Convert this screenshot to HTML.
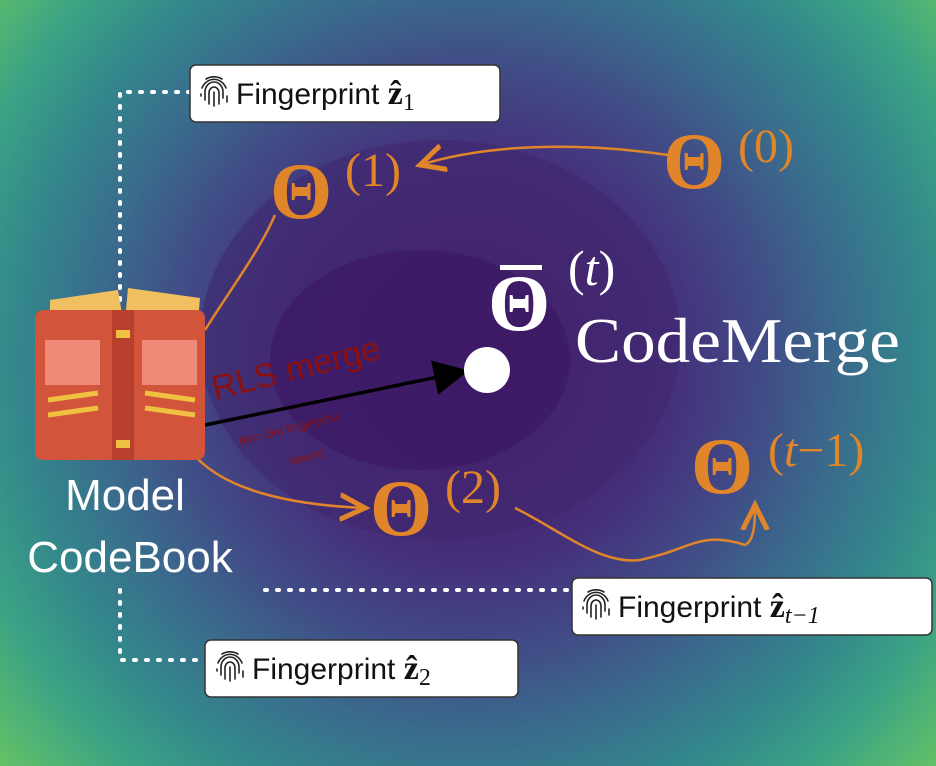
<!DOCTYPE html>
<html><head><meta charset="utf-8"><style>
html,body{margin:0;padding:0;width:936px;height:766px;overflow:hidden}
svg{display:block}
</style></head><body>
<svg width="936" height="766" viewBox="0 0 936 766" xmlns="http://www.w3.org/2000/svg">
<defs>
<radialGradient id="bg" cx="470" cy="360" r="640" gradientUnits="userSpaceOnUse">
<stop offset="0" stop-color="#43176a"/>
<stop offset="0.18" stop-color="#46226f"/>
<stop offset="0.32" stop-color="#45307a"/>
<stop offset="0.45" stop-color="#414a86"/>
<stop offset="0.58" stop-color="#3a6a8c"/>
<stop offset="0.7" stop-color="#33858c"/>
<stop offset="0.82" stop-color="#3aa285"/>
<stop offset="1" stop-color="#6cc860"/>
</radialGradient>
<marker id="ah" markerWidth="10" markerHeight="10" refX="8" refY="5" orient="auto"><path d="M0,0 L10,5 L0,10 z" fill="#000"/></marker>
<marker id="oh" markerWidth="12" markerHeight="12" refX="10" refY="6" orient="auto"><path d="M0,1 L10,6 L0,11" fill="none" stroke="#e0852a" stroke-width="2"/></marker>
<g id="fp" fill="none" stroke="#222" stroke-width="1.6" stroke-linecap="round">
<path d="M-12,-4 A13,14 0 0 1 12,-4"/>
<path d="M-9,8 V0 A9,10 0 0 1 9,0 V6"/>
<path d="M-5,12 V1 A5,6 0 0 1 5,1 V12"/>
<path d="M0,14 V0"/>
<path d="M-13,4 V2"/><path d="M13,4 V10"/>
<path d="M-8,-13 A16,16 0 0 1 8,-13"/>
</g>
</defs>
<rect width="936" height="766" fill="url(#bg)"/>
<ellipse cx="440" cy="340" rx="240" ry="200" fill="#40286e" opacity="0.6"/>
<ellipse cx="420" cy="360" rx="150" ry="110" fill="#3c1562" opacity="0.6"/>

<g stroke="#fff" stroke-width="4" stroke-dasharray="2 10" stroke-linecap="round" fill="none">
<path d="M190,92 H120 V300"/>
<path d="M120,590 V660 H205"/>
<path d="M265,590 H572"/>
</g>

<g stroke="#e0852a" stroke-width="2.5" fill="none">
<path d="M205,330 C230,290 260,250 275,215"/>
<path d="M668,155 C600,145 500,140 420,165" marker-end="url(#oh)"/>
<path d="M190,450 C220,490 290,505 365,508" marker-end="url(#oh)"/>
<path d="M515,508 C560,530 600,565 640,560 C690,550 700,530 745,545 C755,540 755,520 755,505" marker-end="url(#oh)"/>
</g>

<line x1="205" y1="425" x2="462" y2="372" stroke="#000" stroke-width="3.5" marker-end="url(#ah)"/>
<circle cx="487" cy="370" r="23" fill="#fff"/>
<text x="215" y="400" transform="rotate(-14 215 400)" font-family="Liberation Sans, sans-serif" font-size="34" fill="#8a1010">RLS merge</text>
<text x="240" y="445" transform="rotate(-14 240 445)" font-family="Liberation Sans, sans-serif" font-size="12" fill="#8a1010">(low-dim fingerprint</text>
<text x="290" y="465" transform="rotate(-14 290 465)" font-family="Liberation Sans, sans-serif" font-size="12" fill="#8a1010">space)</text>

<g>
<path d="M50,300 L118,290 L123,320 L50,325 Z" fill="#f0c060"/>
<path d="M125,320 L128,288 L200,298 L198,322 Z" fill="#f0c060"/>
<rect x="35" y="310" width="170" height="150" rx="8" fill="#d2543a"/>
<rect x="112" y="310" width="22" height="150" fill="#b8402c"/>
<rect x="45" y="340" width="55" height="45" fill="#f08a78"/>
<rect x="142" y="340" width="55" height="45" fill="#f08a78"/>
<g stroke="#f0c040" stroke-width="5"><line x1="48" y1="400" x2="98" y2="393"/><line x1="48" y1="415" x2="98" y2="408"/><line x1="145" y1="393" x2="195" y2="400"/><line x1="145" y1="408" x2="195" y2="415"/></g>
<rect x="116" y="330" width="14" height="8" fill="#f0c040"/><rect x="116" y="440" width="14" height="8" fill="#f0c040"/>
</g>
<text x="125" y="510" text-anchor="middle" font-family="Liberation Sans, sans-serif" font-size="44" fill="#fff">Model</text>
<text x="130" y="572" text-anchor="middle" font-family="Liberation Sans, sans-serif" font-size="44" fill="#fff">CodeBook</text>

<g font-family="Liberation Serif, serif" fill="#e0852a">
<text x="270" y="218" font-size="80" font-weight="bold">Θ</text><text x="345" y="186" font-size="48">(1)</text>
<text x="663" y="188" font-size="80" font-weight="bold">Θ</text><text x="738" y="162" font-size="48">(0)</text>
<text x="370" y="535" font-size="80" font-weight="bold">Θ</text><text x="445" y="503" font-size="48">(2)</text>
<text x="691" y="493" font-size="80" font-weight="bold">Θ</text><text x="768" y="466" font-size="48">(<tspan font-style="italic">t</tspan>−1)</text>
</g>
<g font-family="Liberation Serif, serif" fill="#fff">
<text x="488" y="330" font-size="80" font-weight="bold">Θ</text>
<rect x="500" y="265" width="42" height="5" fill="#fff"/>
<text x="568" y="285" font-size="50">(<tspan font-style="italic">t</tspan>)</text>
<text x="575" y="362" font-size="63" textLength="325" lengthAdjust="spacingAndGlyphs">CodeMerge</text>
</g>

<g font-family="Liberation Sans, sans-serif" font-size="30" fill="#111">
<rect x="190" y="65" width="310" height="57" rx="6" fill="#fff" stroke="#333" stroke-width="1.5"/>
<use href="#fp" x="214" y="92"/><text x="236" y="104">Fingerprint <tspan font-family="Liberation Serif, serif" font-weight="bold" font-size="34">ẑ</tspan><tspan font-family="Liberation Serif, serif" font-size="24" dy="6">1</tspan></text>
<rect x="205" y="640" width="313" height="57" rx="6" fill="#fff" stroke="#333" stroke-width="1.5"/>
<use href="#fp" x="230" y="667"/><text x="252" y="679">Fingerprint <tspan font-family="Liberation Serif, serif" font-weight="bold" font-size="34">ẑ</tspan><tspan font-family="Liberation Serif, serif" font-size="24" dy="6">2</tspan></text>
<rect x="572" y="578" width="360" height="57" rx="6" fill="#fff" stroke="#333" stroke-width="1.5"/>
<use href="#fp" x="596" y="605"/><text x="618" y="617">Fingerprint <tspan font-family="Liberation Serif, serif" font-weight="bold" font-size="34">ẑ</tspan><tspan font-family="Liberation Serif, serif" font-size="24" font-style="italic" dy="6">t−1</tspan></text>
</g>
</svg>
</body></html>
